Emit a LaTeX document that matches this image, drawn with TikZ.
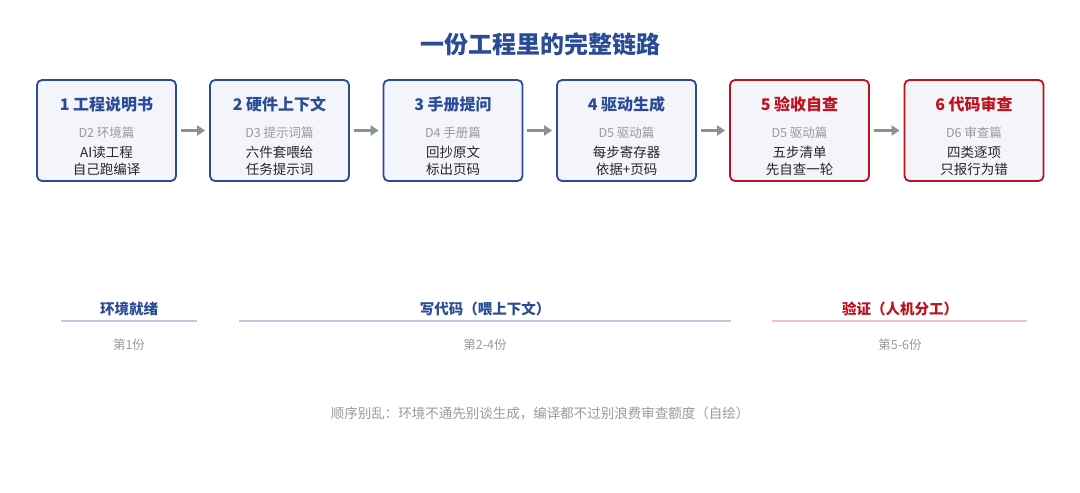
\documentclass[tikz,border=0pt]{standalone}
\usepackage{fontspec}
\usetikzlibrary{arrows.meta}
\setmainfont{Noto Sans CJK SC}
\definecolor{bl}{HTML}{2A4C96}
\definecolor{rd}{HTML}{C0101C}
\definecolor{gr}{HTML}{9A9A9A}
\definecolor{fillb}{HTML}{F3F5FB}
\definecolor{ar}{HTML}{8A8F99}
\begin{document}
\begin{tikzpicture}[x=1pt,y=-1pt,
 box/.style={draw=#1,line width=1.8pt,rounded corners=5pt,fill=fillb,minimum width=139pt,minimum height=101pt},
 ttl/.style={font=\bfseries\fontsize{16}{16}\selectfont,text=#1},
 sub/.style={font=\fontsize{12.5}{12}\selectfont,text=gr},
 body/.style={font=\fontsize{13.5}{17}\selectfont,align=center,text=black!85},
 arr/.style={-{Triangle[length=8pt,width=10pt]},line width=2.4pt,draw=ar},
 lab/.style={font=\bfseries\fontsize{14.5}{14}\selectfont,text=#1},
 cnt/.style={font=\fontsize{12.5}{12}\selectfont,text=gr}]
\fill[white] (0,0) rectangle (1080,493);
\useasboundingbox (0,0) rectangle (1080,493);
\node[font=\bfseries\fontsize{24}{24}\selectfont,text=bl] (t) at (540,44) {一份工程里的完整链路};
\def\bx#1#2#3#4#5#6#7{%
 \node[box=#2] (b#1) at (#3,130.5) {};
 \node[ttl=#2] (t#1) at (#3,104) {#4};
 \node[sub] (s#1) at (#3,133) {#5};
 \node[body] (d#1) at (#3,161) {#6\\#7};}
\bx{1}{bl}{106.5}{1 工程说明书}{D2 环境篇}{AI读工程}{自己跑编译}
\bx{2}{bl}{279.5}{2 硬件上下文}{D3 提示词篇}{六件套喂给}{任务提示词}
\bx{3}{bl}{453}{3 手册提问}{D4 手册篇}{回抄原文}{标出页码}
\bx{4}{bl}{626.5}{4 驱动生成}{D5 驱动篇}{每步寄存器}{依据+页码}
\bx{5}{rd}{799.5}{5 验收自查}{D5 驱动篇}{五步清单}{先自查一轮}
\bx{6}{rd}{974}{6 代码审查}{D6 审查篇}{四类逐项}{只报行为错}
\foreach \a/\b in {1/2,2/3,3/4,4/5,5/6}
 \draw[arr] ([xshift=4pt]b\a.east) -- ([xshift=-4pt]b\b.west);
\node[lab=bl] (l1) at (129,309) {环境就绪};
\node[lab=bl] (l2) at (485,309) {写代码（喂上下文）};
\node[lab=rd] (l3) at (900,309) {验证（人机分工）};
\draw[line width=1.5pt,draw=bl!30] (61,321) coordinate (a1) -- (197,321) coordinate (a2);
\draw[line width=1.5pt,draw=bl!30] (239,321) coordinate (a3) -- (731,321) coordinate (a4);
\draw[line width=1.5pt,draw=rd!25] (772,321) coordinate (a5) -- (1027,321) coordinate (a6);
\node[cnt] (c1) at (129,345) {第1份};
\node[cnt] (c2) at (485,345) {第2-4份};
\node[cnt] (c3) at (900,345) {第5-6份};
\node[font=\fontsize{13.5}{13}\selectfont,text=gr] (f) at (540,413) {顺序别乱：环境不通先别谈生成，编译都不过别浪费审查额度（自绘）};
\end{tikzpicture}
\end{document}
